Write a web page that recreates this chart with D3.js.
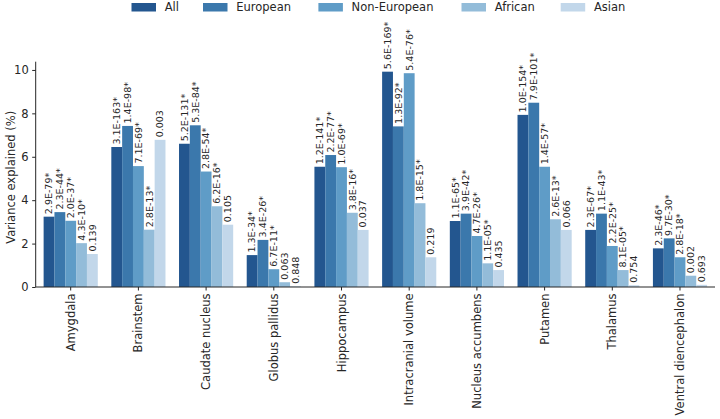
<!DOCTYPE html>
<html>
<head>
<meta charset="utf-8">
<script src="https://cdn.jsdelivr.net/npm/d3@7"></script>
<style>
  html, body { margin: 0; padding: 0; background: #fff; }
  svg { display: block; font-family: "DejaVu Sans", sans-serif; }
  svg text { font-family: "DejaVu Sans", sans-serif; }
</style>
</head>
<body>
<svg id="chart" width="720" height="419"></svg>
<script>
const categories = ["Amygdala", "Brainstem", "Caudate nucleus", "Globus pallidus", "Hippocampus",
  "Intracranial volume", "Nucleus accumbens", "Putamen", "Thalamus", "Ventral diencephalon"];
const seriesNames = ["All", "European", "Non-European", "African", "Asian"];

const valAll        = [3.24, 6.45, 6.60, 1.47, 5.54, 9.92, 3.04, 7.93, 2.63, 1.78];
const valEuropean   = [3.45, 7.42, 7.45, 2.17, 6.08, 7.40, 3.38, 8.49, 3.38, 2.24];
const valNonEuropean= [3.05, 5.57, 5.32, 0.82, 5.52, 9.85, 2.35, 5.54, 1.89, 1.37];
const valAfrican    = [2.02, 2.64, 3.72, 0.22, 3.42, 3.86, 1.09, 3.12, 0.78, 0.52];
const valAsian      = [1.52, 6.78, 2.87, 0.03, 2.63, 1.37, 0.78, 2.63, 0.08, 0.10];

const pAll        = ["2.9E-79*", "3.1E-163*", "5.2E-131*", "1.3E-34*", "1.2E-141*", "5.6E-169*", "1.1E-65*", "1.0E-154*", "2.3E-67*", "2.3E-46*"];
const pEuropean   = ["2.3E-44*", "1.4E-98*", "5.3E-84*", "3.4E-26*", "2.2E-77*", "1.3E-92*", "3.9E-42*", "7.9E-101*", "1.1E-43*", "9.7E-30*"];
const pNonEuropean= ["2.0E-37*", "7.1E-69*", "2.8E-54*", "6.7E-11*", "1.0E-69*", "5.4E-76*", "4.7E-26*", "1.4E-57*", "2.2E-25*", "2.8E-18*"];
const pAfrican    = ["4.3E-10*", "2.8E-13*", "6.2E-16*", "0.063", "3.8E-16*", "1.8E-15*", "1.1E-05*", "2.6E-13*", "8.1E-05*", "0.002"];
const pAsian      = ["0.139", "0.003", "0.105", "0.848", "0.037", "0.219", "0.435", "0.066", "0.754", "0.693"];

const yTicks = [0, 2, 4, 6, 8, 10];
const colors = ["#23568f", "#3b78ac", "#5f9cc7", "#93bcd9", "#c2d7ea"];

const seriesVals = [valAll, valEuropean, valNonEuropean, valAfrican, valAsian];
const seriesP = [pAll, pEuropean, pNonEuropean, pAfrican, pAsian];

const svg = d3.select("#chart");
const textColor = "#262626";
const left = 35.7, right = 715, y0 = 287, yTop = 61.7;

const x = d3.scaleBand().domain(categories).range([left, right]).paddingInner(0.2).paddingOuter(0.117);
const xs = d3.scaleBand().domain(seriesNames).range([0, x.bandwidth()]);
const y = d3.scaleLinear().domain([0, 10.38]).range([y0, yTop]);
const color = d3.scaleOrdinal().domain(seriesNames).range(colors);

const data = [];
categories.forEach((c, i) => {
  seriesNames.forEach((s, j) => {
    data.push({cat: c, ser: s, v: seriesVals[j][i], p: seriesP[j][i]});
  });
});

// bars
svg.append("g").selectAll("rect").data(data).join("rect")
  .attr("x", d => x(d.cat) + xs(d.ser))
  .attr("y", d => y(d.v))
  .attr("width", xs.bandwidth())
  .attr("height", d => y(0) - y(d.v))
  .attr("fill", d => color(d.ser));

// bar labels
svg.append("g").selectAll("text").data(data).join("text")
  .attr("transform", d => `translate(${x(d.cat) + xs(d.ser) + xs.bandwidth() / 2},${y(d.v) - 2.5}) rotate(-90)`)
  .attr("dy", "0.35em")
  .attr("text-anchor", "start")
  .style("font-size", "9.5px")
  .attr("fill", textColor)
  .text(d => d.p);

// y axis
const yAxis = svg.append("g").attr("transform", `translate(${left},0)`)
  .call(d3.axisLeft(y).tickValues(yTicks).tickFormat(d3.format("d")).tickSize(3.5).tickPadding(3.5));
yAxis.attr("font-size", null).attr("font-family", null);
yAxis.select(".domain").attr("stroke", textColor).attr("stroke-width", 1)
  .attr("d", `M0,${yTop}V${y0}`);
yAxis.selectAll(".tick line").attr("stroke", textColor);
yAxis.selectAll(".tick text").attr("fill", textColor).style("font-size", "11.5px");

// x axis
const xAxis = svg.append("g").attr("transform", `translate(0,${y0})`)
  .call(d3.axisBottom(x).tickSize(3.5).tickSizeOuter(0).tickPadding(3));
xAxis.attr("font-size", null).attr("font-family", null);
xAxis.select(".domain").attr("stroke", textColor).attr("stroke-width", 1)
  .attr("d", `M${left},0H${right}`);
xAxis.selectAll(".tick line").attr("stroke", textColor);
xAxis.selectAll(".tick text")
  .attr("fill", textColor).style("font-size", "11.5px")
  .attr("text-anchor", "end")
  .attr("transform", "rotate(-90)")
  .attr("x", -6.5).attr("y", 0).attr("dy", "0.35em");

// y label
svg.append("text")
  .attr("transform", `translate(11,${(y0 + yTop) / 2 + 3}) rotate(-90)`)
  .attr("text-anchor", "middle")
  .attr("dy", "0.35em")
  .style("font-size", "11.5px")
  .attr("fill", textColor)
  .text("Variance explained (%)");

// legend
const legendX = [131.5, 203, 318.4, 461.5, 560.7];
const legend = svg.append("g");
seriesNames.forEach((s, j) => {
  legend.append("rect").attr("x", legendX[j]).attr("y", 3).attr("width", 24.5).attr("height", 8.5).attr("fill", color(s));
  legend.append("text").attr("x", legendX[j] + 33.2).attr("y", 7.3).attr("dy", "0.35em")
    .style("font-size", "11.5px").attr("fill", textColor).text(s);
});
</script>
</body>
</html>
